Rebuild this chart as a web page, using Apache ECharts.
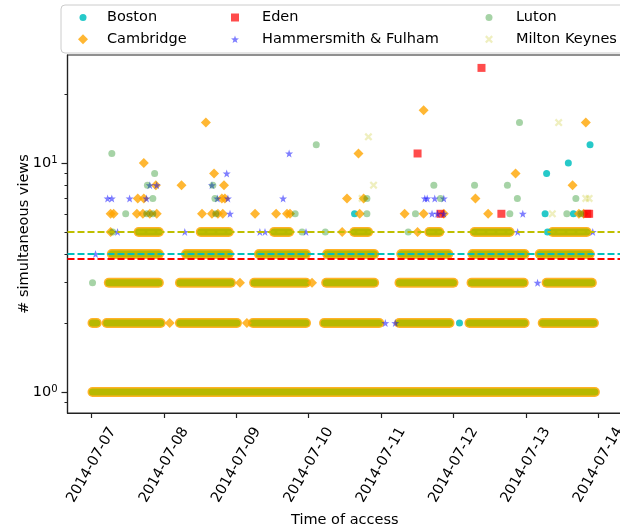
<!DOCTYPE html>
<html>
<head>
<meta charset="utf-8">
<script src="https://cdn.jsdelivr.net/npm/echarts@6/dist/echarts.min.js"></script>
<style>
html, body { margin: 0; padding: 0; background: #fff; }
#chart { width: 620px; height: 529px; }
</style>
</head>
<body>
<div id="chart"></div>
<script>
// x values are hours after 2014-07-07 00:00
var dayTicks = ["2014-07-07", "2014-07-08", "2014-07-09", "2014-07-10", "2014-07-11", "2014-07-12", "2014-07-13", "2014-07-14"];
var yMajorTicks = [1, 10];
var yMinorTicks = [0.9, 2, 3, 4, 5, 6, 7, 8, 9, 20];

// dense runs of overlapping markers, [start hour, end hour]
var runLevels = [1, 2, 3, 4, 5];
var runs1 = [[0.3, 166.9]];
var runs2 = [[0.3, 1.7], [5.0, 22.9], [29.3, 48.2], [53.5, 71.1], [77.1, 95.4], [102.0, 118.7], [125.3, 143.6], [149.6, 166.6]];
var runs3 = [[5.7, 22.3], [29.3, 46.2], [53.9, 71.1], [77.8, 93.7], [102.1, 120.0], [126.0, 143.3], [150.9, 165.9]];
var runs4 = [[6.7, 22.3], [31.3, 45.5], [55.5, 71.1], [78.1, 93.7], [102.7, 118.3], [126.3, 143.6], [148.6, 165.2]];
var runs5 = [[15.6, 22.3], [36.2, 45.5], [60.5, 65.5], [87.1, 91.7], [112.0, 115.3], [127.0, 138.6], [152.9, 164.2]];

// single markers [hour, views]
var boston = [[122.0, 2], [151.2, 5], [87.2, 6], [150.4, 6], [159.8, 6], [150.9, 9], [158.1, 10], [165.3, 12]];
var cambridge = [
	[25.9, 2], [51.5, 2], [49.2, 3], [73.1, 3], [6.3, 5], [83.1, 5], [108.1, 5],
	[6.3, 6], [7.3, 6], [15.0, 6], [17.0, 6], [19.3, 6], [21.6, 6], [36.6, 6], [39.9, 6], [41.9, 6], [43.5, 6], [54.2, 6],
	[61.2, 6], [64.8, 6], [65.8, 6], [88.9, 6], [103.8, 6], [110.1, 6], [116.8, 6], [131.5, 6], [161.6, 6], [163.2, 6],
	[15.3, 7], [17.3, 7], [43.2, 7], [44.2, 7], [84.7, 7], [90.2, 7], [127.3, 7],
	[21.3, 8], [29.8, 8], [43.9, 8], [159.5, 8], [40.6, 9], [140.6, 9], [17.3, 10], [88.5, 11],
	[37.9, 15], [163.9, 15], [110.1, 17]
];
var eden = [[115.7, 6], [135.9, 6], [164.4, 6], [165.0, 6], [108.1, 11], [129.3, 26]];
var hammersmith = [
	[97.4, 2], [100.7, 2], [147.9, 3], [1.3, 4],
	[8.6, 5], [30.9, 5], [55.8, 5], [57.5, 5], [71.1, 5], [141.3, 5], [166.2, 5],
	[45.9, 6], [112.9, 6], [114.7, 6], [116.8, 6], [143.0, 6],
	[5.3, 7], [6.7, 7], [12.6, 7], [18.2, 7], [41.7, 7], [45.2, 7], [63.5, 7], [110.5, 7], [111.3, 7], [113.8, 7], [116.8, 7],
	[19.3, 8], [21.6, 8], [39.9, 8], [44.8, 9], [65.5, 11]
];
var luton = [
	[0.3, 3], [7.0, 5], [69.8, 5], [77.5, 5], [105.0, 5],
	[11.3, 6], [18.3, 6], [20.3, 6], [41.2, 6], [67.5, 6], [91.3, 6], [107.4, 6], [138.7, 6], [157.6, 6], [162.2, 6],
	[20.3, 7], [40.9, 7], [91.3, 7], [115.7, 7], [141.2, 7], [160.6, 7],
	[18.5, 8], [40.2, 8], [113.5, 8], [127.0, 8], [137.9, 8], [20.9, 9], [6.7, 11], [74.5, 12], [141.9, 15]
];
var miltonKeynes = [[152.8, 6], [89.7, 7], [163.9, 7], [165.0, 7], [93.5, 8], [91.8, 13], [154.9, 15]];

// dashed reference lines (mean views)
var meanNames = ["Eden", "Boston", "Milton Keynes"];
var meanValues = [3.83, 4.0, 5.0];

var dayHours = dayTicks.map(function (d, i) { return i * 24; });

var starPath = "path://M0,-10L2.35,-3.24L9.51,-3.09L3.8,1.24L5.88,8.09L0,4L-5.88,8.09L-3.8,1.24L-9.51,-3.09L-2.35,-3.24Z";
var xPath = "path://M-10,-6L-6,-10L0,-4L6,-10L10,-6L4,0L10,6L6,10L0,4L-6,10L-10,6L-4,0Z";

var fs = 14.5;
var chart = echarts.init(document.getElementById("chart"));

var runData = [];
[runs1, runs2, runs3, runs4, runs5].forEach(function (runs, i) {
	runs.forEach(function (r) {
		runData.push([r[0], r[1], runLevels[i]]);
	});
});

function renderRun(params, api) {
	var a = api.coord([api.value(0), api.value(2)]);
	var b = api.coord([api.value(1), api.value(2)]);
	var shape = { x1: a[0], y1: a[1], x2: b[0], y2: b[1] };
	return {
		type: "group",
		children: [
			{ type: "line", shape: shape, style: { stroke: "#ffa500", lineWidth: 10, lineCap: "round", opacity: 0.85 } },
			{ type: "line", shape: shape, style: { stroke: "#b8b800", lineWidth: 7, lineCap: "round" } }
		]
	};
}

function meanLine(name) {
	var i = meanNames.indexOf(name);
	var colors = { "Eden": "#ff0000", "Boston": "#00bfbf", "Milton Keynes": "#bfbf00" };
	return {
		silent: true,
		symbol: ["none", "none"],
		label: { show: false },
		z: 20,
		lineStyle: { type: [7, 3], width: 2, color: colors[name], opacity: 1 },
		data: [{ yAxis: meanValues[i] }]
	};
}

function legendItem(name, icon, size, cx, cy, textX) {
	var left = cx - size / 2;
	return {
		data: [{ name: name, icon: icon }],
		left: left,
		top: cy - 9,
		padding: 0,
		itemWidth: size,
		itemHeight: size,
		selectedMode: false,
		textStyle: { fontSize: fs, color: "#000", lineHeight: 18, padding: [0, 0, 0, textX - (left + size + 5)] }
	};
}

var option = {
	animation: false,
	textStyle: { fontFamily: "DejaVu Sans" },
	graphic: [{
		type: "rect",
		shape: { x: 61, y: 5, width: 600, height: 48, r: 4 },
		style: { fill: "#fff", stroke: "#cccccc", lineWidth: 1 },
		z: -1
	}],
	legend: [
		legendItem("Boston", "circle", 7, 83, 17.5, 107),
		legendItem("Cambridge", "diamond", 10, 83, 39.3, 107),
		legendItem("Eden", "rect", 8, 235, 17.5, 262),
		legendItem("Hammersmith & Fulham", starPath, 8, 235, 39.3, 262),
		legendItem("Luton", "circle", 7, 489, 17.5, 516),
		legendItem("Milton Keynes", xPath, 8, 489, 39.3, 516)
	],
	grid: { left: 67.5, right: -2, top: 55, bottom: 116, show: true, borderColor: "#222", borderWidth: 1.2, outerBoundsMode: "none" },
	xAxis: {
		type: "value",
		min: -8.0,
		max: 175.9,
		name: "Time of access",
		nameLocation: "middle",
		nameGap: 98,
		nameTextStyle: { fontSize: fs, color: "#000" },
		axisLine: { onZero: false, lineStyle: { color: "#222", width: 1.2 } },
		axisTick: { customValues: dayHours, length: 5, lineStyle: { color: "#222", width: 1.2 } },
		splitLine: { show: false },
		axisLabel: {
			customValues: dayHours,
			rotate: 60,
			align: "center",
			verticalAlign: "middle",
			margin: 52,
			fontSize: fs,
			color: "#000",
			formatter: function (v) {
				var i = dayHours.indexOf(v);
				return i >= 0 ? dayTicks[i] : "";
			}
		}
	},
	yAxis: [{
		type: "log",
		logBase: 10,
		min: 0.81,
		max: 29.6,
		name: "# simultaneous views",
		nameLocation: "middle",
		nameRotate: 90,
		nameGap: 36,
		nameMoveOverlap: false,
		nameTextStyle: { fontSize: fs, color: "#000" },
		axisLine: { show: true, onZero: false, lineStyle: { color: "#222", width: 1.2 } },
		axisTick: { customValues: yMajorTicks, length: 6, lineStyle: { color: "#222", width: 1.2 } },
		splitLine: { show: false },
		axisLabel: {
			customValues: yMajorTicks,
			margin: 10,
			formatter: function (v) {
				return "{b|10}{s|" + Math.round(Math.log10(v)) + "}";
			},
			rich: {
				b: { fontSize: fs, color: "#000" },
				s: { fontSize: 10, color: "#000", verticalAlign: "top" }
			}
		}
	}, {
		type: "log",
		logBase: 10,
		min: 0.81,
		max: 29.6,
		position: "left",
		axisLine: { show: false, onZero: false },
		axisLabel: { show: false },
		splitLine: { show: false },
		axisTick: { customValues: yMinorTicks, length: 3, lineStyle: { color: "#222", width: 1 } }
	}],
	series: [
		{ type: "custom", name: "runs", renderItem: renderRun, encode: { x: [0, 1], y: 2 }, data: runData, z: 1, silent: true },
		{ type: "scatter", name: "Boston", symbol: "circle", symbolSize: 7, itemStyle: { color: "#00bfbf", opacity: 0.85 }, data: boston, z: 3, markLine: meanLine("Boston") },
		{ type: "scatter", name: "Cambridge", symbol: "diamond", symbolSize: 10, itemStyle: { color: "#ffa500", opacity: 0.8 }, data: cambridge, z: 3 },
		{ type: "scatter", name: "Eden", symbol: "rect", symbolSize: 8, itemStyle: { color: "#ff0000", opacity: 0.7 }, data: eden, z: 3, markLine: meanLine("Eden") },
		{ type: "scatter", name: "Hammersmith & Fulham", symbol: starPath, symbolSize: 8, itemStyle: { color: "#0000ff", opacity: 0.5 }, data: hammersmith, z: 3 },
		{ type: "scatter", name: "Luton", symbol: "circle", symbolSize: 7, itemStyle: { color: "#008000", opacity: 0.35 }, data: luton, z: 3 },
		{ type: "scatter", name: "Milton Keynes", symbol: xPath, symbolSize: 8, itemStyle: { color: "#bfbf00", opacity: 0.25 }, data: miltonKeynes, z: 3, markLine: meanLine("Milton Keynes") }
	]
};
chart.setOption(option);
</script>
</body>
</html>
